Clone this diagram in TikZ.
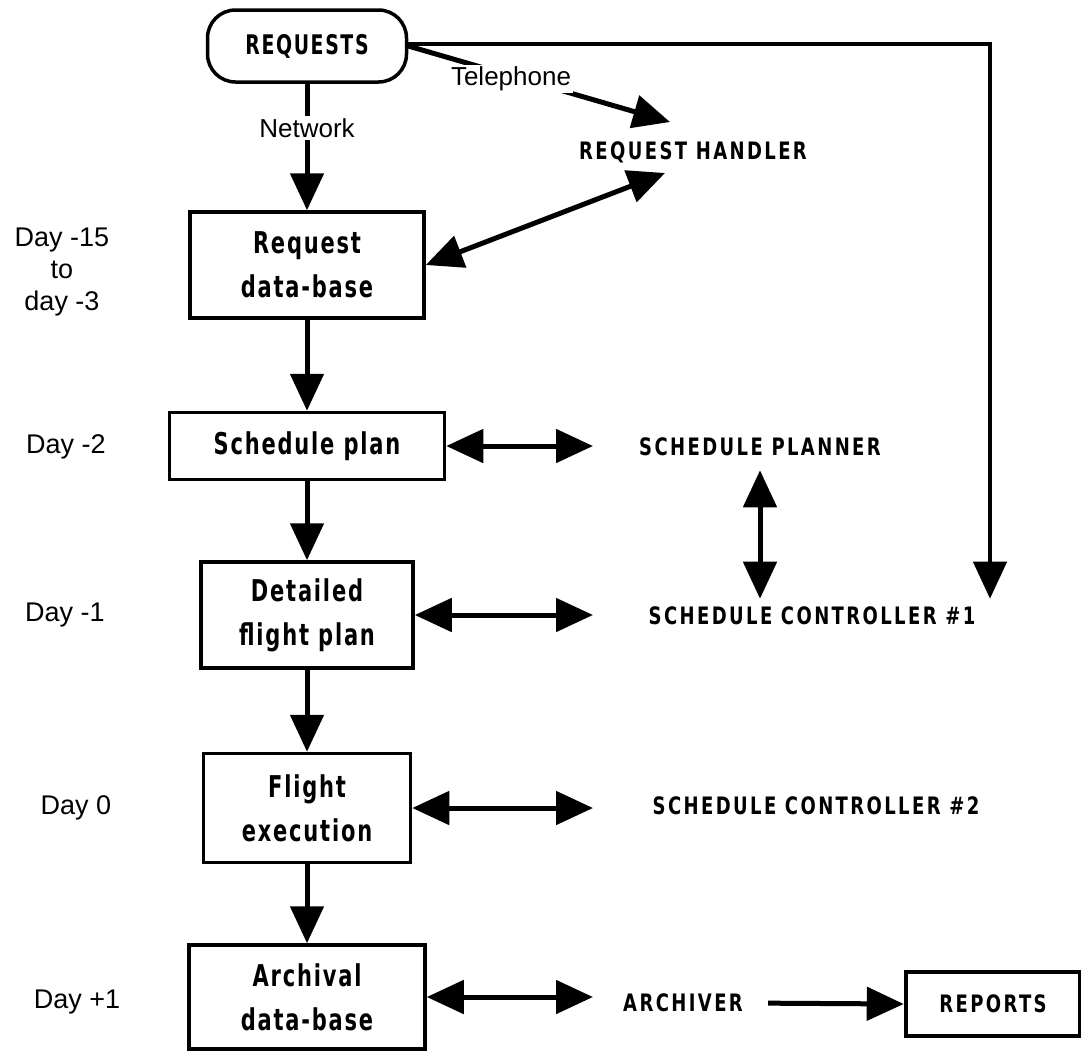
\documentclass[tikz,border=0pt]{standalone}
\usepackage{fontspec}
\setmainfont{Liberation Sans}
\newfontfamily\blockfont{DejaVu Sans}[FakeStretch=0.7, LetterSpace=6]
\newfontfamily\capsfont{DejaVu Sans}[FakeStretch=0.75, LetterSpace=10]
\usetikzlibrary{arrows.meta,calc}

\begin{document}
\begin{tikzpicture}[x=1pt,y=-1pt,
  stage/.style={draw, line width=3.5pt, inner sep=0pt, align=center,
    font=\blockfont\bfseries\fontsize{30}{44}\selectfont},
  role/.style={inner sep=0pt, font=\capsfont\bfseries\fontsize{24}{28}\selectfont},
  daylabel/.style={inner sep=0pt, align=center, font=\fontsize{27}{32}\selectfont},
  medium/.style={fill=white, inner sep=2pt, font=\fontsize{26}{30}\selectfont},
  flow/.style={line width=5pt, -{Triangle[width=33pt,length=37pt]}},
  both/.style={line width=5pt, {Triangle[width=33pt,length=37pt]}-{Triangle[width=33pt,length=37pt]}}
]
\useasboundingbox (0,0) rectangle (1081,1053);

% main chain of stages
\node[stage, rounded corners=28pt, minimum width=199pt, minimum height=72pt,
      font=\blockfont\bfseries\fontsize{27}{30}\selectfont] (req) at (307,46) {REQUESTS};
\node[stage, minimum width=234pt, minimum height=106pt] (reqdb) at (307,265) {Request\\data-base};
\node[stage, minimum width=275pt, minimum height=67pt] (sched) at (307,446) {Schedule plan};
\node[stage, minimum width=212pt, minimum height=106pt] (detail) at (307,615) {Detailed\\flight plan};
\node[stage, minimum width=207pt, minimum height=109pt] (flight) at (307,808) {Flight\\execution};
\node[stage, minimum width=236pt, minimum height=104pt] (archdb) at (307,997) {Archival\\data-base};
\node[stage, line width=4.5pt, minimum width=174pt, minimum height=64pt,
      font=\capsfont\bfseries\fontsize{24}{28}\selectfont] (reports) at (993,1004) {REPORTS};

% roles
\node[role] (handler) at (693,152) {REQUEST HANDLER};
\node[role] (planner) at (760,447) {SCHEDULE PLANNER};
\node[role] (ctrl1) at (812,616) {SCHEDULE CONTROLLER \#1};
\node[role] (ctrl2) at (816,806) {SCHEDULE CONTROLLER \#2};
\node[role] (archiver) at (683,1003) {ARCHIVER};

% time line
\node[daylabel] (d15) at (62,272) {Day -15\\to\\day -3};
\node[daylabel] (d2) at (66,447) {Day -2};
\node[daylabel] (d1) at (65,615) {Day -1};
\node[daylabel] (d0) at (76,808) {Day 0};
\node[daylabel] (dp1) at (77,1002) {Day +1};

% helper points
\coordinate (tipcol) at (593,0);
\coordinate (turn) at (990,44);

% flow down the chain
\draw[flow] (req) -- (reqdb);
\node[medium] (net) at (307,128) {Network};
\draw[flow] (reqdb) -- (sched);
\draw[flow] (sched) -- (detail);
\draw[flow] (detail) -- (flight);
\draw[flow] (flight) -- (archdb);

% requests by telephone and to the controller
\draw[flow] (req.east) -- ($(handler.center)+(-23,-30)$);
\node[medium] (tel) at (511,79) {Telephone};
\draw[line width=4.5pt, -{Triangle[width=33pt,length=37pt]}, shorten >=8pt]
  (req.east |- turn) -- (turn) -- (turn |- ctrl1.north);

% two-way exchanges
\draw[both] ($(handler.center)+(-28,21)$) -- (reqdb.east);
\draw[both] (sched.east) -- (sched.east -| tipcol);
\draw[both, shorten <=14pt, shorten >=8pt] (planner.south) -- (planner.south |- ctrl1.north);
\draw[both] (detail.east) -- (detail.east -| tipcol);
\draw[both] (flight.east) -- (flight.east -| tipcol);
\draw[both] (archdb.east) -- (archdb.east -| tipcol);

% reports
\draw[flow, shorten <=25pt] (archiver.east) -- (reports.west);
\end{tikzpicture}
\end{document}
